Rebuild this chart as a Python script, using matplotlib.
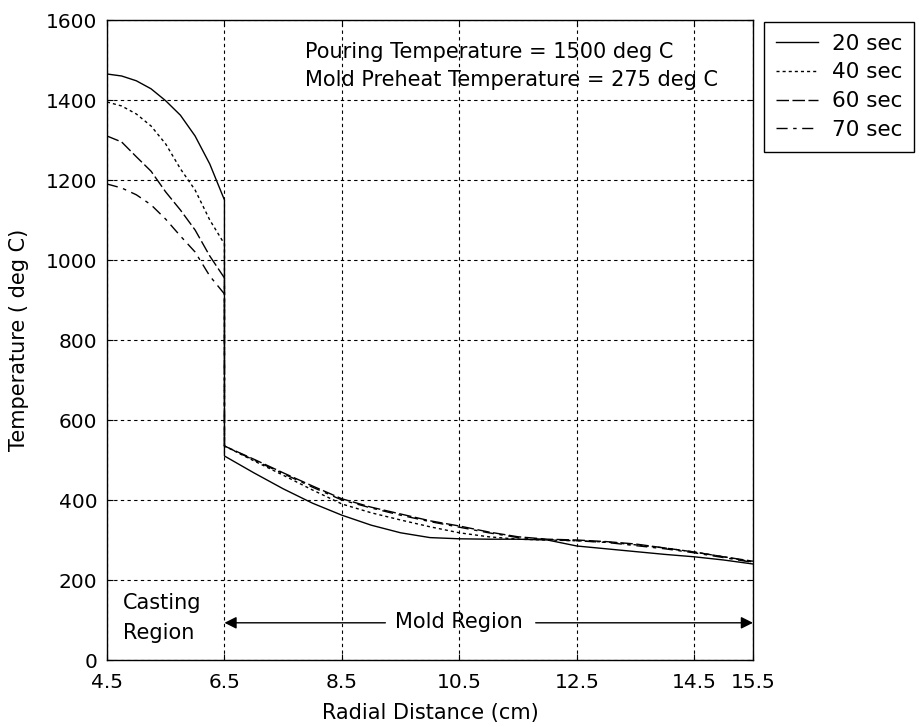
import numpy as np
import matplotlib.pyplot as plt

plt.rcParams['font.family'] = ['DejaVu Sans']

# casting region (4.5 - 6.5 cm)
x_cast = [4.5, 4.75, 5.0, 5.25, 5.5, 5.75, 6.0, 6.25, 6.5]
t20_cast = [1465, 1460, 1448, 1428, 1398, 1362, 1310, 1240, 1150]
t40_cast = [1395, 1385, 1365, 1335, 1290, 1228, 1175, 1100, 1040]
t60_cast = [1310, 1295, 1258, 1222, 1170, 1125, 1075, 1010, 955]
t70_cast = [1190, 1180, 1163, 1138, 1102, 1060, 1020, 960, 915]

# mold region (6.5 - 15.5 cm)
x_mold = [6.5, 7.0, 7.5, 8.0, 8.5, 9.0, 9.5, 10.0, 10.5, 11.0, 11.5,
          12.0, 12.5, 13.0, 13.5, 14.0, 14.5, 15.0, 15.5]
t20_mold = [510, 468, 428, 392, 362, 337, 318, 306, 303, 302, 302,
            300, 285, 278, 271, 264, 258, 250, 240]
t40_mold = [535, 498, 462, 425, 390, 368, 350, 333, 318, 308, 302,
            300, 298, 295, 288, 280, 270, 258, 245]
t60_mold = [535, 502, 468, 435, 403, 382, 365, 348, 335, 320, 308,
            302, 300, 296, 290, 280, 270, 258, 247]
t70_mold = [535, 500, 466, 432, 400, 380, 362, 346, 332, 318, 306,
            301, 298, 294, 286, 278, 268, 256, 244]

labels = ["20 sec", "40 sec", "60 sec", "70 sec"]
styles = ['-', (0, (2.2, 2.2)), (0, (9, 2.5)), (0, (8, 4, 2.5, 4))]

x_ticks = [4.5, 6.5, 8.5, 10.5, 12.5, 14.5, 15.5]
y_ticks = np.arange(0, 1601, 200)

FS = 15

fig = plt.figure(figsize=(9.23, 7.27), dpi=100)
ax = fig.add_axes([107 / 923, 67 / 727, 646 / 923, 640 / 727])

series = [(t20_cast, t20_mold), (t40_cast, t40_mold),
          (t60_cast, t60_mold), (t70_cast, t70_mold)]
for (tc, tm), lab, ls in zip(series, labels, styles):
    ax.plot(x_cast + x_mold, tc + tm, color='black', lw=1.0,
            linestyle=ls, label=lab)

ax.set_xlim(4.5, 15.5)
ax.set_ylim(0, 1600)
ax.set_xticks(x_ticks)
ax.set_xticklabels([f"{v:g}" for v in x_ticks])
ax.set_yticks(y_ticks)
ax.tick_params(direction='in', top=True, right=True, labelsize=14.5, length=4)
ax.tick_params(axis='x', pad=9)
ax.tick_params(axis='y', pad=7)
ax.grid(True, color='black', linestyle=(0, (3, 3)), lw=0.8)
for s in ax.spines.values():
    s.set_linewidth(1.0)

ax.set_xlabel("Radial Distance (cm)", fontsize=FS)
ax.set_ylabel("Temperature ( deg C)", fontsize=FS)
ax.xaxis.set_label_coords(0.5, -0.067)
ax.yaxis.set_label_coords(-0.12, 0.5)

ax.text(7.88, 1521, "Pouring Temperature = 1500 deg C", fontsize=FS, va='center')
ax.text(7.88, 1450, "Mold Preheat Temperature = 275 deg C", fontsize=FS, va='center')

ax.text(4.77, 142, "Casting", fontsize=FS, va='center')
ax.text(4.77, 67, "Region", fontsize=FS, va='center')

ax.text(10.5, 95, "Mold Region", fontsize=FS, va='center', ha='center')
ax.annotate('', xy=(6.5, 93), xytext=(9.24, 93),
            arrowprops=dict(arrowstyle='-|>', color='black', lw=1,
                            mutation_scale=18, shrinkA=0, shrinkB=0))
ax.annotate('', xy=(15.5, 93), xytext=(11.8, 93),
            arrowprops=dict(arrowstyle='-|>', color='black', lw=1,
                            mutation_scale=18, shrinkA=0, shrinkB=0))

leg = fig.legend(loc='upper left', bbox_to_anchor=(764 / 923, 1 - 22 / 727),
                 borderaxespad=0, fontsize=15.5, frameon=True, fancybox=False,
                 framealpha=1, edgecolor='black', handlelength=1.95,
                 handletextpad=0.65, labelspacing=0.4, borderpad=0.55)
leg.get_frame().set_linewidth(1.0)

fig.savefig("out.png", dpi=100)
